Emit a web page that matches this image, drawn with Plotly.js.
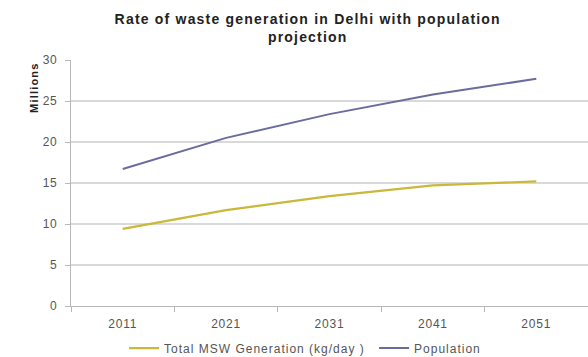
<!DOCTYPE html>
<html>
<head>
<meta charset="utf-8">
<script src="https://cdn.plot.ly/plotly-3.0.1.min.js"></script>
<style>
  html, body { margin: 0; padding: 0; background: #ffffff; }
  #chart { width: 588px; height: 357px; }
  /* slightly airy text, in the manner of office chart exports */
  #chart .annotation-text { letter-spacing: 1.2px; }
  #chart .legendtext { letter-spacing: 1px; }
  #chart .xtick text, #chart .ytick text { letter-spacing: 0.8px; }
</style>
</head>
<body>
<div id="chart"></div>
<script>
// Census years and projections
const years = ['2011', '2021', '2031', '2041', '2051'];
// Municipal solid waste generated (millions of kg/day)
const mswGeneration = [9.4, 11.7, 13.4, 14.7, 15.2];
// Population of Delhi (millions)
const population = [16.7, 20.5, 23.4, 25.8, 27.7];

const yTicks = [0, 5, 10, 15, 20, 25, 30];

const chartTitle = 'Rate of waste generation in Delhi with population<br>projection';
const unitLabel = 'Millions';

const font = 'Liberation Sans, Arial, sans-serif';

const traces = [
  {
    x: years, y: mswGeneration, type: 'scatter', mode: 'lines',
    name: 'Total MSW Generation (kg/day )',
    line: { color: '#c9b83a', width: 2.2 }
  },
  {
    x: years, y: population, type: 'scatter', mode: 'lines',
    name: 'Population',
    line: { color: '#6a6c9c', width: 2 }
  }
];

const layout = {
  width: 588, height: 357,
  margin: { l: 71, r: 0, t: 60, b: 51, autoexpand: false },
  paper_bgcolor: '#ffffff', plot_bgcolor: '#ffffff',
  font: { family: font, size: 12, color: '#555555' },
  xaxis: {
    type: 'category',
    range: [-0.5, 4.5],
    showgrid: false,
    showline: true, linecolor: '#b8b8b8', linewidth: 1,
    ticks: 'outside', tickson: 'boundaries', ticklen: 5, tickcolor: '#b8b8b8',
    ticklabelstandoff: 7,
    tickfont: { family: font, size: 12, color: '#555555' },
    zeroline: false, fixedrange: true
  },
  yaxis: {
    range: [0, 30],
    tickvals: yTicks,
    ticktext: yTicks.map(String),
    showgrid: true, gridcolor: '#d9d9d9', gridwidth: 1.5,
    showline: true, linecolor: '#b8b8b8', linewidth: 1,
    ticks: 'outside', ticklen: 5, tickcolor: '#b8b8b8',
    ticklabelstandoff: 5,
    tickfont: { family: font, size: 12, color: '#555555' },
    zeroline: false, fixedrange: true
  },
  annotations: [
    {
      // chart title, two centred lines above the plot
      text: '<b>' + chartTitle + '</b>',
      xref: 'paper', yref: 'paper',
      x: 0.458, y: 1.13,
      xanchor: 'center', yanchor: 'middle', align: 'center',
      showarrow: false,
      font: { family: font, size: 14, color: '#222222' }
    },
    {
      text: '<b>' + unitLabel + '</b>',
      textangle: -90,
      xref: 'paper', yref: 'y',
      x: -0.071, y: 26.6,
      xanchor: 'center', yanchor: 'middle',
      showarrow: false,
      font: { family: font, size: 11, color: '#222222' }
    }
  ],
  legend: {
    orientation: 'h',
    xref: 'container', x: 0.211, xanchor: 'left',
    yref: 'container', y: 0.025, yanchor: 'middle',
    font: { family: font, size: 12, color: '#555555' },
    itemwidth: 30,
    entrywidth: 205,
    tracegroupgap: 0,
    bgcolor: 'rgba(0,0,0,0)'
  },
  showlegend: true
};

Plotly.newPlot('chart', traces, layout, { displayModeBar: false, staticPlot: true });
</script>
</body>
</html>
